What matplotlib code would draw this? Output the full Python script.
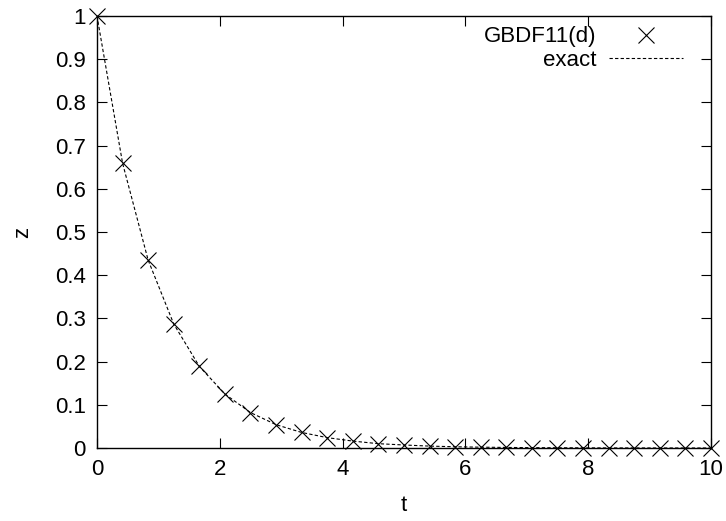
import matplotlib.pyplot as plt

# t samples and solution values
t = [0, 0.417, 0.833, 1.25, 1.667, 2.083, 2.5, 2.917, 3.333, 3.75, 4.167, 4.583, 5.0,
     5.417, 5.833, 6.25, 6.667, 7.083, 7.5, 7.917, 8.333, 8.75, 9.167, 9.583, 10]
z_gbdf = [1.0, 0.659, 0.435, 0.287, 0.189, 0.125, 0.082, 0.054, 0.036, 0.024, 0.016, 0.010,
          0.007, 0.0044, 0.0029, 0.0019, 0.0013, 0.0008, 0.0006, 0.0004, 0.0002, 0.0002,
          0.0001, 0.0001, 0.0]
z_exact = [1.0, 0.659, 0.435, 0.287, 0.189, 0.125, 0.082, 0.054, 0.036, 0.024, 0.016, 0.010,
           0.007, 0.0044, 0.0029, 0.0019, 0.0013, 0.0008, 0.0006, 0.0004, 0.0002, 0.0002,
           0.0001, 0.0001, 0.0]

xticks = [0, 2, 4, 6, 8, 10]
yticks = [0, 0.1, 0.2, 0.3, 0.4, 0.5, 0.6, 0.7, 0.8, 0.9, 1]

plt.rcParams['font.family'] = ['Liberation Sans', 'DejaVu Sans']
FS = 16

fig = plt.figure(figsize=(7.26, 5.21), dpi=100)
ax = fig.add_axes([0.1336, 0.1401, 0.9793 - 0.1336, 0.9693 - 0.1401])

ax.plot(t, z_gbdf, linestyle='none', marker='x', markersize=12, markeredgewidth=0.8,
        color='black', label='GBDF11(d)', clip_on=False, zorder=3)
ax.plot(t, z_exact, linestyle=(0, (3, 2)), linewidth=0.8, color='black', label='exact')

ax.set_xlim(0, 10)
ax.set_ylim(0, 1)
ax.set_xticks(xticks)
ax.set_xticklabels([str(v) for v in xticks])
ax.set_yticks(yticks)
ax.set_yticklabels([f"{v:g}" for v in yticks])
ax.tick_params(direction='in', length=7, width=0.8, top=True, right=True,
               labelsize=FS, pad=8)
for s in ax.spines.values():
    s.set_linewidth(1.0)

ax.set_xlabel('t', fontsize=FS, labelpad=11)
ax.set_ylabel('z', fontsize=FS, labelpad=16)

ax.legend(loc='upper right', bbox_to_anchor=(0.954, 0.976), frameon=False,
          markerfirst=False, fontsize=FS, handlelength=3.3, handletextpad=0.6,
          labelspacing=0.12, borderaxespad=0, borderpad=0)

fig.savefig('out.png', dpi=100)
